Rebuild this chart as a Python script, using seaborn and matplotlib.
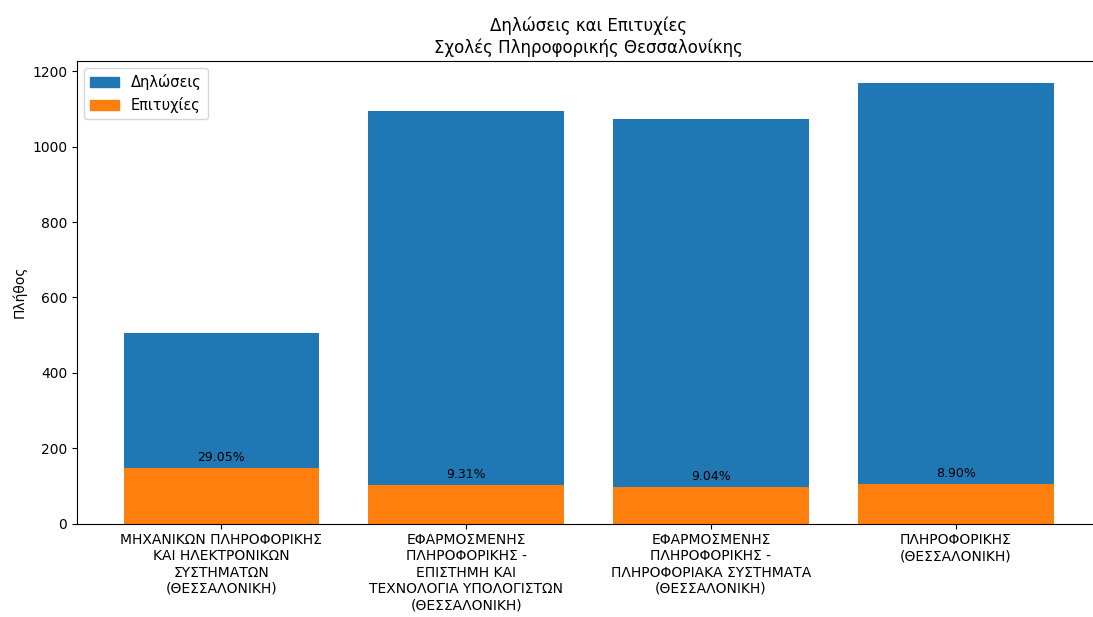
import matplotlib
matplotlib.use("Agg")
import matplotlib.pyplot as plt
import seaborn as sns
import pandas as pd
from matplotlib.patches import Patch

categories = [
    "ΜΗΧΑΝΙΚΩΝ ΠΛΗΡΟΦΟΡΙΚΗΣ\nΚΑΙ ΗΛΕΚΤΡΟΝΙΚΩΝ\nΣΥΣΤΗΜΑΤΩΝ\n(ΘΕΣΣΑΛΟΝΙΚΗ)",
    "ΕΦΑΡΜΟΣΜΕΝΗΣ\nΠΛΗΡΟΦΟΡΙΚΗΣ -\nΕΠΙΣΤΗΜΗ ΚΑΙ\nΤΕΧΝΟΛΟΓΙΑ ΥΠΟΛΟΓΙΣΤΩΝ\n(ΘΕΣΣΑΛΟΝΙΚΗ)",
    "ΕΦΑΡΜΟΣΜΕΝΗΣ\nΠΛΗΡΟΦΟΡΙΚΗΣ -\nΠΛΗΡΟΦΟΡΙΑΚΑ ΣΥΣΤΗΜΑΤΑ\n(ΘΕΣΣΑΛΟΝΙΚΗ)",
    "ΠΛΗΡΟΦΟΡΙΚΗΣ\n(ΘΕΣΣΑΛΟΝΙΚΗ)",
]
declarations = [506, 1096, 1073, 1169]
successes = [147, 102, 97, 104]
percent_labels = ["29.05%", "9.31%", "9.04%", "8.90%"]

df = pd.DataFrame({"cat": categories, "decl": declarations, "succ": successes})

fig = plt.figure(figsize=(10.93, 6.17), dpi=100)
ax = fig.add_axes([77 / 1093, 1 - 523.5 / 617, (1100 - 77) / 1093, (523.5 - 61) / 617])

sns.barplot(data=df, x="cat", y="decl", color="#1f77b4", saturation=1, width=0.8, ax=ax)
sns.barplot(data=df, x="cat", y="succ", color="#ff7f0e", saturation=1, width=0.8, ax=ax)

for i, (s, lab) in enumerate(zip(successes, percent_labels)):
    ax.text(i, s + 28, lab, ha="center", va="center", fontsize=9)

ax.set_xlim(-0.59, 3.59)
ax.set_ylim(0, 1169 * 1.05)
ax.set_xlabel("")
ax.set_ylabel("Πλήθος")
ax.set_title("Δηλώσεις και Επιτυχίες\nΣχολές Πληροφορικής Θεσσαλονίκης")
ax.legend(handles=[Patch(color="#1f77b4", label="Δηλώσεις"),
                   Patch(color="#ff7f0e", label="Επιτυχίες")], loc="upper left",
          fontsize=10.5)

fig.savefig("out.png", dpi=100)
